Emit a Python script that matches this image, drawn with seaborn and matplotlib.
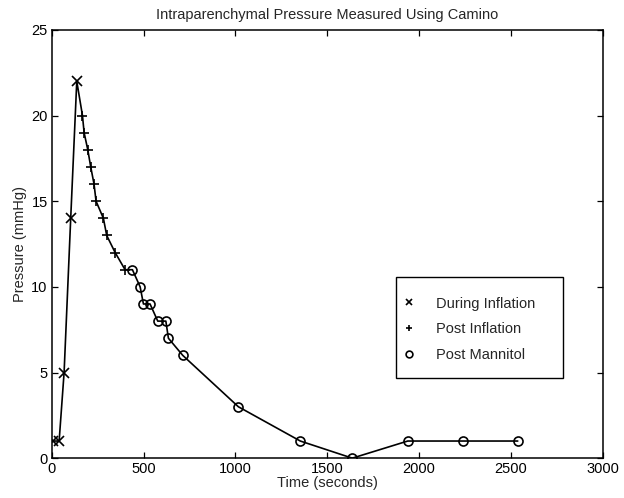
import pandas as pd
import matplotlib.pyplot as plt
import seaborn as sns
from matplotlib.patches import Rectangle

# values
during_time = [5, 40, 67, 103, 136]
during_pressure = [1, 1, 5, 14, 22]

post_time = [167, 176, 196, 212, 230, 241, 281, 299, 345, 399]
post_pressure = [20, 19, 18, 17, 16, 15, 14, 13, 12, 11]

mannitol_time = [439, 481, 499, 535, 577, 621, 635, 713, 1016, 1353, 1636, 1938, 2241, 2537]
mannitol_pressure = [11, 10, 9, 9, 8, 8, 7, 6, 3, 1, 0, 1, 1, 1]

phases = ['During Inflation', 'Post Inflation', 'Post Mannitol']
phase_markers = ['x', '+', 'o']

df = pd.DataFrame({
    'time': during_time + post_time + mannitol_time,
    'pressure': during_pressure + post_pressure + mannitol_pressure,
    'phase': [phases[0]] * len(during_time) + [phases[1]] * len(post_time) + [phases[2]] * len(mannitol_time),
})

sns.set_style('ticks')
plt.rcParams['font.family'] = ['Liberation Sans', 'DejaVu Sans']
plt.rcParams['font.size'] = 10.5

fig = plt.figure(figsize=(6.24, 4.98), dpi=100)
ax = fig.add_axes([0.083, 0.080, 0.883, 0.860])

# one continuous line through every reading
sns.lineplot(data=df, x='time', y='pressure', sort=False, color='black', linewidth=1.2, ax=ax, legend=False)

for phase, mk in zip(phases, phase_markers):
    sub = df[df['phase'] == phase]
    ax.plot(sub['time'], sub['pressure'], linestyle='none', marker=mk, color='black',
            markerfacecolor='none', markersize=6.5, markeredgewidth=1.2, label=phase)

ax.set_xlim(0, 3000)
ax.set_ylim(0, 25)
ax.set_xticks(range(0, 3001, 500))
ax.set_yticks(range(0, 26, 5))
ax.tick_params(direction='in', top=True, right=True, length=4, width=0.9, labelsize=10.5,
               colors='black', pad=3)
for s in ax.spines.values():
    s.set_linewidth(1.1)
    s.set_color('black')

ax.set_title('Intraparenchymal Pressure Measured Using Camino', fontsize=10.5, pad=8)
ax.set_xlabel('Time (seconds)', fontsize=10.5, labelpad=0)
ax.set_ylabel('Pressure (mmHg)', fontsize=10.5, labelpad=3)

# legend box drawn separately (taller than its entries, as in the original)
ax.add_patch(Rectangle((0.625, 0.187), 0.303, 0.236, transform=ax.transAxes,
                       facecolor='white', edgecolor='black', linewidth=1.0, zorder=4))
leg = ax.legend(loc='center left', bbox_to_anchor=(0.625, 0.301), borderaxespad=0,
                frameon=False, fontsize=10.5, handlelength=1.0, handletextpad=1.35,
                labelspacing=0.8, borderpad=0.4, markerscale=0.75)
leg.set_zorder(5)

fig.savefig('out.png', dpi=100)
